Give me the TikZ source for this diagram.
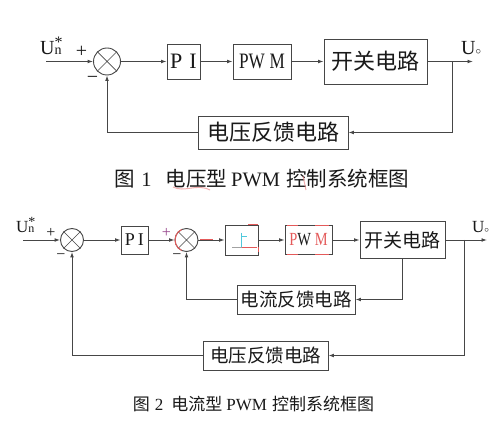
\documentclass[tikz,border=0pt]{standalone}
\usepackage{fontspec}
\setmainfont{Liberation Serif}
\newfontfamily\cjk{Noto Sans CJK SC}
\newfontfamily\narrowserif[FakeStretch=0.78]{Liberation Serif}
\usetikzlibrary{arrows.meta}
\definecolor{lc}{RGB}{70,70,70}
\definecolor{tc}{RGB}{25,25,25}
\definecolor{redm}{RGB}{228,90,90}
\definecolor{cyanm}{RGB}{80,200,220}
\definecolor{purpm}{RGB}{150,70,140}
\newcommand{\fsz}[1]{\fontsize{#1}{#1}\selectfont}
\begin{document}
\begin{tikzpicture}[x=1pt,y=-1pt,
  ln/.style={draw=lc,line width=0.9pt},
  arr/.style={ln,-{Latex[length=5.5pt,width=3.8pt]}},
  blk/.style={draw=lc,line width=0.9pt,inner sep=0pt,text=tc,rectangle},
  sumA/.style={circle,draw=lc,line width=0.9pt,inner sep=0pt,minimum size=27pt},
  sumB/.style={circle,draw=lc,line width=0.9pt,inner sep=0pt,minimum size=23pt},
  lbl/.style={inner sep=0pt,text=tc,anchor=base west},
  sgn/.style={inner sep=0pt,text=tc},
  redmark/.style={draw=redm,line width=1pt},
]
\fill[white] (0,0) rectangle (500,427);
\useasboundingbox (0,0) rectangle (500,427);

% ---------------- Figure 1 ----------------
\node[sumA] (c1) at (107,61.5) {};
\draw[ln,line width=0.7pt] (c1.north west)--(c1.south east) (c1.north east)--(c1.south west);
\node[blk,minimum width=33pt,minimum height=35pt] (pi1) at (183.5,61.5) {\fsz{22}P\hspace{7pt}I};
\node[blk,minimum width=58pt,minimum height=35pt] (pwm1) at (262,61.5) {\narrowserif\fsz{22}PW\hspace{5pt}M};
\node[blk,minimum width=103pt,minimum height=45pt] (sw1) at (375.5,61.5) {\cjk\fsz{22}开关电路};
\node[blk,minimum width=150pt,minimum height=33pt] (fb1) at (273,132.5) {\cjk\fsz{22}电压反馈电路};
\coordinate (in1) at (46,61.5);
\coordinate (j1) at (452,61.5);
\coordinate (out1) at (473,61.5);
\node[lbl] (un1) at (40,55) {\fsz{20}U\rlap{\fsz{14}n}\raisebox{7pt}{\fsz{16}*}};
\node[lbl] (uo1) at (461,55) {\fsz{20}U\fsz{11}$\circ$};
\node[sgn] (p1) at (81.5,52) {\fsz{20}+};
\node[sgn] (m1) at (92.5,80) {\fsz{20}−};

\draw[arr] (in1) -- (c1.west);
\draw[arr] (c1.east) -- (pi1.west);
\draw[arr] (pi1.east) -- (pwm1.west);
\draw[arr] (pwm1.east) -- (sw1.west);
\draw[arr] (sw1.east) -- (out1);
\draw[arr] (j1) |- (fb1.east);
\draw[arr] (fb1.west) -| (c1.south);

\node[sgn,anchor=base] (cap1) at (262,186.5) {\fsz{20.5}{\cjk 图}\hspace{6pt}1\hspace{14pt}{\cjk 电压型}\hspace{4pt}PWM\hspace{6pt}{\cjk 控制系统框图}};
\draw[draw=redm!70,line width=1pt,opacity=0.7] (173,187) .. controls (185,193) and (196,183) .. (210,190);
\draw[draw=redm!70,line width=1pt,opacity=0.7] (303,176) -- (306,190);

% ---------------- Figure 2 ----------------
\node[sumB] (c2a) at (72,240) {};
\draw[ln,line width=0.7pt] (c2a.north west)--(c2a.south east) (c2a.north east)--(c2a.south west);
\node[blk,minimum width=27pt,minimum height=28pt] (pi2) at (134.5,240) {\fsz{18}P\hspace{3pt}I};
\node[sumB] (c2b) at (186.5,240) {};
\draw[ln,line width=0.7pt] (c2b.north west)--(c2b.south east) (c2b.north east)--(c2b.south west);
\node[blk,minimum width=33pt,minimum height=30pt] (cmp) at (241.5,240) {};
\node[blk,minimum width=47pt,minimum height=29pt] (pwm2) at (308.5,240) {\narrowserif\fsz{18.5}{\color{redm}P}W\hspace{4pt}{\color{redm}M}};
\node[blk,minimum width=85pt,minimum height=37pt] (sw2) at (402.5,240) {\cjk\fsz{19}开关电路};
\node[blk,minimum width=118pt,minimum height=29pt] (ifb) at (296,299.5) {\cjk\fsz{18.5}电流反馈电路};
\node[blk,minimum width=125pt,minimum height=29pt] (vfb) at (265.5,355.5) {\cjk\fsz{18.5}电压反馈电路};
\coordinate (in2) at (23,240);
\coordinate (j2) at (464,240);
\coordinate (out2) at (487,240);
\node[lbl] (un2) at (16,233) {\fsz{17}U\rlap{\fsz{12}n}\raisebox{6pt}{\fsz{14}*}};
\node[lbl] (uo2) at (472,233) {\fsz{17}U\fsz{9.5}$\circ$};
\node[sgn] (p2a) at (51,232.5) {\fsz{16}+};
\node[sgn] (m2a) at (61,256.7) {\fsz{16}−};
\node[sgn,text=purpm] (p2b) at (166.5,233) {\fsz{16}+};
\node[sgn] (m2b) at (177,256.7) {\fsz{16}−};

% comparator symbol
\draw[draw=lc!50,line width=0.8pt] ([shift={(-9.5,7)}]cmp.center) -- ([shift={(0,7)}]cmp.center);
\draw[draw=redm,line width=0.8pt] ([shift={(0,7)}]cmp.center) -- ([shift={(15.5,7)}]cmp.center);
\draw[draw=cyanm,line width=0.8pt] ([shift={(-0.5,-7)}]cmp.center) -- ([shift={(-0.5,7)}]cmp.center)
  ([shift={(-0.5,-4)}]cmp.center) -- ([shift={(5.5,-4)}]cmp.center);

\draw[arr] (in2) -- (c2a.west);
\draw[arr] (c2a.east) -- (pi2.west);
\draw[arr] (pi2.east) -- (c2b.west);
\draw[arr] (c2b.east) -- (cmp.west);
\draw[arr] (cmp.east) -- (pwm2.west);
\draw[arr] (pwm2.east) -- (sw2.west);
\draw[arr] (sw2.east) -- (out2);
\draw[arr] (sw2.south) |- (ifb.east);
\draw[arr] (ifb.west) -| (c2b.south);
\draw[arr] (j2) |- (vfb.east);
\draw[arr] (vfb.west) -| (c2a.south);

% red edit marks
\draw[redmark] (c2b.center) ++(115:11.5) arc[start angle=115,end angle=245,radius=11.5];
\draw[redmark] ([xshift=2pt]c2b.east) -- ([xshift=15pt]c2b.east);
\draw[redmark] ([xshift=-10pt]cmp.north east) -- (cmp.north east);
\draw[redmark] ([yshift=-7pt]cmp.east) -- ([yshift=-12pt]cmp.east);
\draw[redmark] ([xshift=2pt]pwm2.north west) -- ([xshift=13pt]pwm2.north west)
  ([xshift=-17pt]pwm2.north east) -- ([xshift=-3pt]pwm2.north east)
  ([xshift=2pt]pwm2.south west) -- ([xshift=13pt]pwm2.south west)
  ([xshift=-17pt]pwm2.south east) -- ([xshift=-3pt]pwm2.south east);

\node[sgn,anchor=base] (cap2) at (253.5,410.5) {\fsz{17}{\cjk 图}\hspace{5pt}2\hspace{8pt}{\cjk 电流型}\hspace{4pt}PWM\hspace{5pt}{\cjk 控制系统框图}};
\end{tikzpicture}
\end{document}
